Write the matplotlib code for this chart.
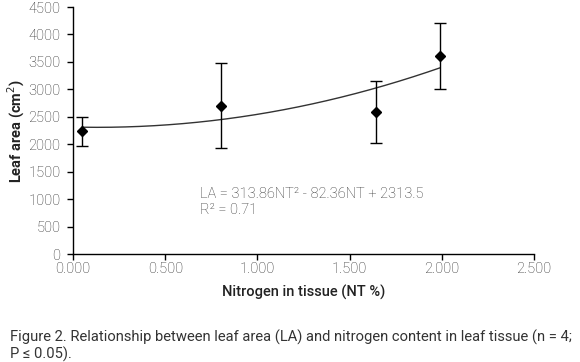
import numpy as np
import matplotlib.pyplot as plt

plt.rcParams['font.family'] = ['Roboto', 'DejaVu Sans']

nt = [0.05, 0.80, 1.64, 1.99]
la = [2240, 2700, 2590, 3610]
la_err = [265, 775, 570, 605]

coef = [313.86, -82.36, 2313.5]
eq_text = "LA = 313.86NT² - 82.36NT + 2313.5\nR² = 0.71"

x_ticks = [0, 0.5, 1.0, 1.5, 2.0, 2.5]
y_ticks = list(range(0, 4501, 500))

fig = plt.figure(figsize=(5.8, 3.62), dpi=100)
ax = fig.add_axes([0.1259, 0.2983, 0.795, 0.6823])

# trend line over the data range
xs = np.linspace(min(nt), max(nt), 200)
ax.plot(xs, np.polyval(coef, xs), color='#333333', lw=1.0, zorder=2)

ax.errorbar(nt, la, yerr=la_err, fmt='D', color='black', ms=5.5,
            ecolor='black', elinewidth=1.0, capsize=4, capthick=1.0, zorder=3)

ax.text(0.69, 1230, eq_text, fontsize=10.5, color='#333333', va='top',
        linespacing=1.25, fontweight='light')

ax.set_xlim(0, 2.5)
ax.set_ylim(0, 4500)
ax.set_xticks(x_ticks)
ax.set_xticklabels([f"{v:.3f}" for v in x_ticks])
ax.set_yticks(y_ticks)
for s in ['top', 'right']:
    ax.spines[s].set_visible(False)
for s in ['left', 'bottom']:
    ax.spines[s].set_linewidth(1.0)
ax.tick_params(direction='out', length=4, width=1.0, labelsize=10.5,
               labelcolor='#2a2a2a')
ax.tick_params(axis='x', pad=2)
ax.tick_params(axis='y', pad=5)
for lbl in ax.get_xticklabels() + ax.get_yticklabels():
    lbl.set_fontweight('light')

ax.set_xlabel("Nitrogen in tissue (NT %)", fontsize=10.5, color='#222222',
              fontweight='medium', labelpad=6)
ax.set_ylabel("Leaf area (cm$^2$)", fontsize=10.5, color='#222222',
              fontweight='bold', labelpad=1)

fig.text(0.017, 0.045, "Figure 2. Relationship between leaf area (LA) and nitrogen content in leaf tissue (n = 4;\nP ≤ 0.05).",
         fontsize=10.6, color='#333333', va='center', linespacing=1.15)

fig.savefig("out.png", dpi=100)
